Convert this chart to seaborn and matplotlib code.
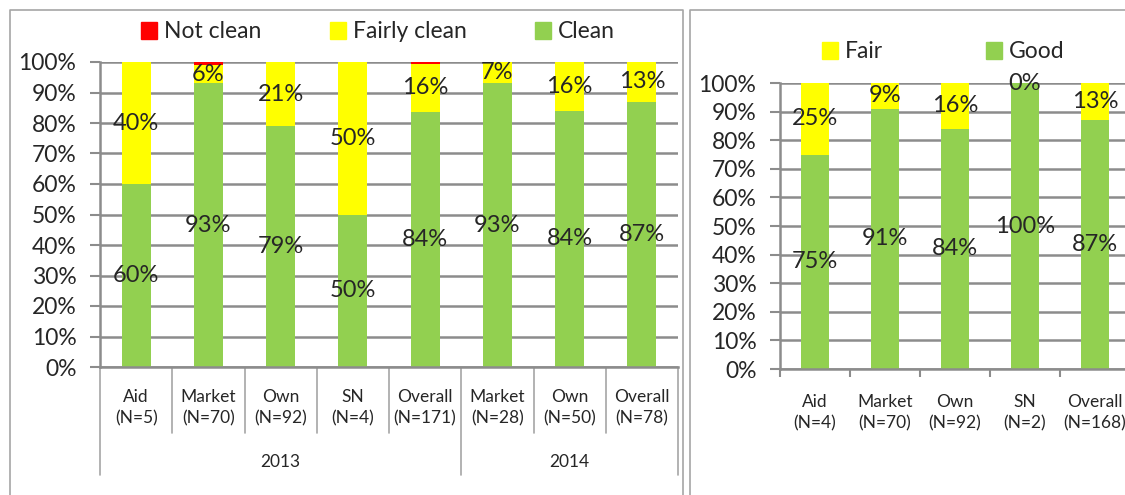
import matplotlib
matplotlib.use("Agg")
import matplotlib.pyplot as plt
import matplotlib.transforms as mtrans
from matplotlib.patches import Patch
from matplotlib.lines import Line2D
import seaborn as sns

# left chart: cleanliness by source, 2013 / 2014
left_cats = ["Aid\n(N=5)", "Market\n(N=70)", "Own\n(N=92)", "SN\n(N=4)", "Overall\n(N=171)",
             "Market\n(N=28)", "Own\n(N=50)", "Overall\n(N=78)"]
left_years = ["2013", "2014"]
left_year_counts = [5, 3]
clean = [60, 93, 79, 50, 83.6, 93, 84, 87]
fairly_clean = [40, 6, 21, 50, 15.8, 7, 16, 13]
not_clean = [0, 1, 0, 0, 0.6, 0, 0, 0]

# right chart: condition by source
right_cats = ["Aid\n(N=4)", "Market\n(N=70)", "Own\n(N=92)", "SN\n(N=2)", "Overall\n(N=168)"]
good = [75, 91, 84, 100, 87]
fair = [25, 9, 16, 0, 13]

GREEN = "#92D050"
YELLOW = "#FFFF00"
RED = "#FF0000"
GRID = "#8c8c8c"
FRAME = "#a6a6a6"

W, H = 1125, 495

sns.set_style("white")
plt.rcParams["font.family"] = ["Lato", "DejaVu Sans"]

fig = plt.figure(figsize=(W / 100, H / 100), dpi=100)


def px_axes(x0, y_top, x1, y_bot):
    return fig.add_axes([x0 / W, (H - y_bot) / H, (x1 - x0) / W, (y_bot - y_top) / H])


def style_y(ax):
    ax.set_ylim(0, 100)
    ax.set_yticks(range(0, 101, 10))
    ax.set_yticklabels([f"{v}%" for v in range(0, 101, 10)], fontsize=16.5)
    ax.yaxis.grid(True, color=GRID, lw=1.8)
    ax.set_axisbelow(True)
    ax.tick_params(axis="y", length=7, width=1.5, color=GRID, pad=10, left=True)
    for s in ["top", "right"]:
        ax.spines[s].set_visible(False)
    for s in ["left", "bottom"]:
        ax.spines[s].set_color(GRID)
        ax.spines[s].set_linewidth(1.8)
    ax.set_xlabel("")
    ax.set_ylabel("")


def stacked(ax, cats, layers):
    # layers: list of (values, color) from bottom to top
    totals = [0] * len(cats)
    tops = []
    for vals, col in layers:
        totals = [t + v for t, v in zip(totals, vals)]
        tops.append((list(totals), col))
    for top, col in reversed(tops):
        sns.barplot(x=cats, y=top, color=col, width=0.4, saturation=1, ax=ax, order=cats,
                    linewidth=0)
    ax.set_xlim(-0.5, len(cats) - 0.5)


def labels(ax, layers):
    base = [0] * len(layers[0])
    for vals in layers:
        for i, v in enumerate(vals):
            ax.text(i, base[i] + v / 2, f"{round(v)}%", ha="center", va="center", fontsize=17)
        base = [b + v for b, v in zip(base, vals)]


# ---- left chart ----
ax1 = px_axes(100, 62, 678, 367)
stacked(ax1, left_cats, [(clean, GREEN), (fairly_clean, YELLOW), (not_clean, RED)])
style_y(ax1)
labels(ax1, [clean, fairly_clean])
ax1.set_xticks(range(len(left_cats)))
ax1.set_xticklabels(left_cats, fontsize=12.5, linespacing=1.4)
ax1.tick_params(axis="x", length=0, pad=16)

tr = mtrans.blended_transform_factory(ax1.transData, ax1.transAxes)
long_idx = [0]
acc = 0
for n in left_year_counts:
    acc += n
    long_idx.append(acc)
for k in range(len(left_cats) + 1):
    y_end = -0.354 if k in long_idx else -0.216
    ax1.add_line(Line2D([k - 0.5, k - 0.5], [0, y_end], transform=tr, color=FRAME,
                        lw=1.2, clip_on=False))
start = 0
for yr, n in zip(left_years, left_year_counts):
    ax1.text(start - 0.5 + n / 2, -0.31, yr, transform=tr, ha="center", va="center",
             fontsize=12.5)
    start += n

fig.legend(handles=[Patch(color=RED, label="Not clean"),
                    Patch(color=YELLOW, label="Fairly clean"),
                    Patch(color=GREEN, label="Clean")],
           loc="center", bbox_to_anchor=(378 / W, 1 - 32 / H), ncol=3, frameon=False,
           fontsize=16.5, handlelength=0.7, handleheight=0.7, handletextpad=0.3,
           columnspacing=3.0)

# ---- right chart ----
ax2 = px_axes(780, 83, 1130, 369)
stacked(ax2, right_cats, [(good, GREEN), (fair, YELLOW)])
style_y(ax2)
labels(ax2, [good, fair])
ax2.set_xticks(range(len(right_cats)))
ax2.set_xticklabels(right_cats, fontsize=12.5, linespacing=1.4)
ax2.tick_params(axis="x", length=0, pad=18)
ax2.set_xticks([k - 0.5 for k in range(len(right_cats) + 1)], minor=True)
ax2.tick_params(axis="x", which="minor", length=6, width=1.5, color=GRID, bottom=True)

fig.legend(handles=[Patch(color=YELLOW, label="Fair"),
                    Patch(color=GREEN, label="Good")],
           loc="center", bbox_to_anchor=(943 / W, 1 - 52 / H), ncol=2, frameon=False,
           fontsize=16.5, handlelength=0.7, handleheight=0.7, handletextpad=0.3,
           columnspacing=4.5)

# chart frames
def fline(xs, ys):
    fig.add_artist(Line2D([x / W for x in xs], [1 - y / H for y in ys], color=FRAME, lw=1.2))

fline([10, 10, 683, 683], [H, 10, 10, H])
fline([690, 690, W], [H, 10, 10])

fig.savefig("out.png", dpi=100)
